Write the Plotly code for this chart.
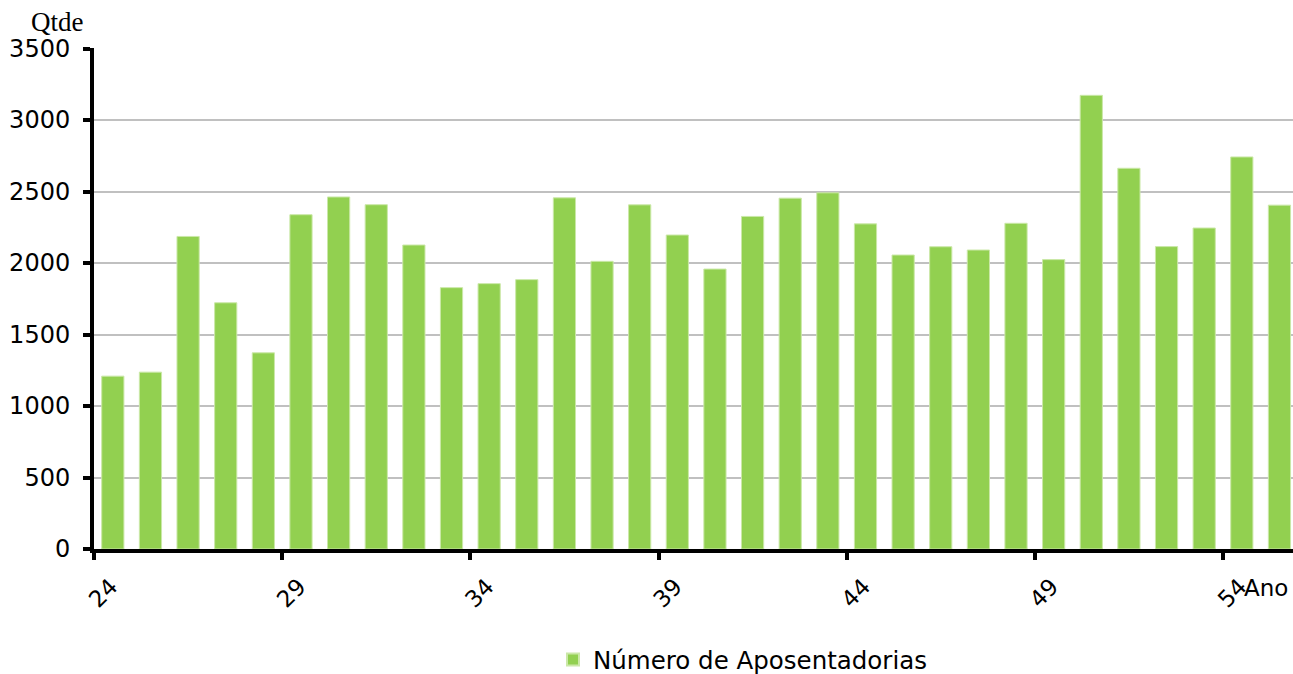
import plotly.graph_objects as go

years = list(range(24, 56))
values = [1209, 1237, 2186, 1722, 1372, 2338, 2462, 2408, 2126, 1828, 1856, 1884,
          2456, 2012, 2407, 2196, 1958, 2326, 2454, 2491, 2274, 2056, 2114, 2091,
          2278, 2024, 3173, 2663, 2115, 2245, 2742, 2405]
tick_years = [24, 29, 34, 39, 44, 49, 54]
tick_labels = [str(y) for y in tick_years]
y_ticks = [0, 500, 1000, 1500, 2000, 2500, 3000, 3500]
series_name = "Número de Aposentadorias"

SANS = "DejaVu Sans"

fig = go.Figure()
fig.add_trace(go.Bar(
    x=years, y=values, name=series_name,
    marker=dict(color="#92D050", line=dict(color="#cbe8a8", width=1)),
    showlegend=True,
))

fig.update_layout(
    width=1293, height=674,
    margin=dict(l=94, r=0, t=48, b=125, autoexpand=False),
    paper_bgcolor="white", plot_bgcolor="white",
    bargap=0.41,
    showlegend=True,
    legend=dict(orientation="h", x=(553 - 94) / 1199, xanchor="left",
                y=-0.176, yanchor="top",
                font=dict(family=SANS, size=24.5, color="#000000"),
                itemsizing="constant"),
    xaxis=dict(
        range=[23.5, 55.36],
        automargin=False,
        tickmode="array",
        tickvals=[y - 0.5 for y in tick_years],
        ticktext=tick_labels,
        tickangle=-45,
        ticklabelshift=17,
        ticklabelstandoff=4,
        ticks="outside", ticklen=7, tickwidth=4, tickcolor="black",
        showline=True, linecolor="black", linewidth=4,
        showgrid=False, zeroline=False,
        tickfont=dict(family=SANS, size=23, color="black"),
    ),
    yaxis=dict(
        range=[0, 3504],
        automargin=False,
        tickmode="array",
        tickvals=y_ticks,
        ticktext=[str(v) for v in y_ticks],
        ticks="outside", ticklen=7, tickwidth=4, tickcolor="black",
        showline=True, linecolor="black", linewidth=4,
        showgrid=True, gridcolor="#c0c0c0", gridwidth=2,
        zeroline=False,
        ticklabelstandoff=8,
        tickfont=dict(family=SANS, size=24, color="black"),
    ),
    annotations=[
        dict(text="Qtde", xref="paper", yref="paper", x=(57 - 94) / 1199, y=1 + (48 - 22) / 501,
             xanchor="center", yanchor="middle", showarrow=False,
             font=dict(family="Liberation Serif", size=27, color="black")),
        dict(text="Ano", xref="paper", yref="paper", x=(1266 - 94) / 1199, y=-(588 - 549) / 501,
             xanchor="center", yanchor="middle", showarrow=False,
             font=dict(family=SANS, size=23, color="black")),
    ],
)

fig.write_html(
    "out.html",
    config={"displayModeBar": False},
    post_script="document.body.style.margin='0';document.body.style.overflow='hidden';",
)
